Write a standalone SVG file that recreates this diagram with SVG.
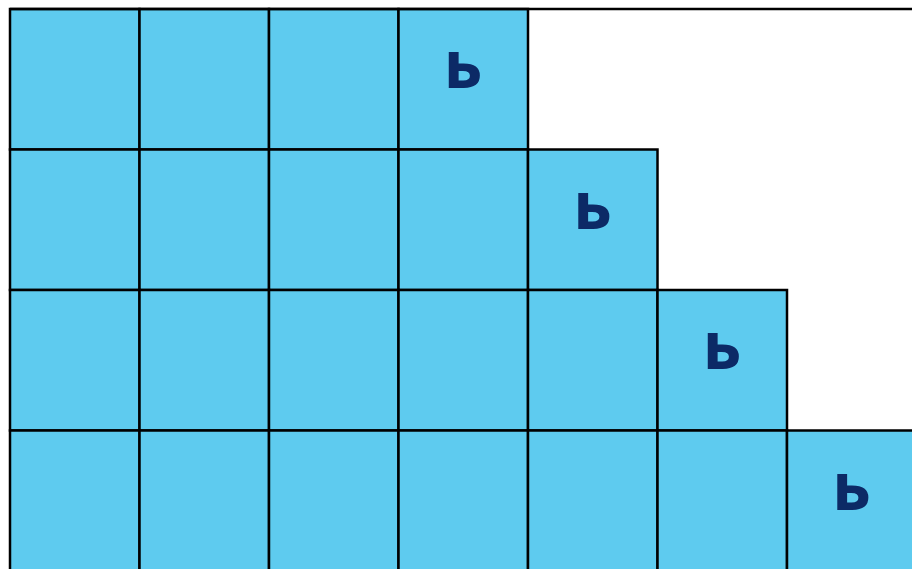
<svg xmlns="http://www.w3.org/2000/svg" width="912" height="569" viewBox="0 0 912 569">
<style>
.c{fill:#5ecbef;stroke:#000;stroke-width:2.5}
.l{font-family:"Noto Sans",sans-serif;font-weight:bold;font-size:66px;fill:#0c2a66;text-anchor:middle}
</style>
<rect width="912" height="569" fill="#fff"/>
<g id="row1">
<rect class="c" x="10" y="9" width="129.5" height="140.5"/>
<rect class="c" x="139.5" y="9" width="129.5" height="140.5"/>
<rect class="c" x="269" y="9" width="129.5" height="140.5"/>
<rect class="c" x="398.5" y="9" width="129.5" height="140.5"/>
</g>
<g id="row2">
<rect class="c" x="10" y="149.5" width="129.5" height="140.5"/>
<rect class="c" x="139.5" y="149.5" width="129.5" height="140.5"/>
<rect class="c" x="269" y="149.5" width="129.5" height="140.5"/>
<rect class="c" x="398.5" y="149.5" width="129.5" height="140.5"/>
<rect class="c" x="528" y="149.5" width="129.5" height="140.5"/>
</g>
<g id="row3">
<rect class="c" x="10" y="290" width="129.5" height="140.5"/>
<rect class="c" x="139.5" y="290" width="129.5" height="140.5"/>
<rect class="c" x="269" y="290" width="129.5" height="140.5"/>
<rect class="c" x="398.5" y="290" width="129.5" height="140.5"/>
<rect class="c" x="528" y="290" width="129.5" height="140.5"/>
<rect class="c" x="657.5" y="290" width="129.5" height="140.5"/>
</g>
<g id="row4">
<rect class="c" x="10" y="430.5" width="129.5" height="145"/>
<rect class="c" x="139.5" y="430.5" width="129.5" height="145"/>
<rect class="c" x="269" y="430.5" width="129.5" height="145"/>
<rect class="c" x="398.5" y="430.5" width="129.5" height="145"/>
<rect class="c" x="528" y="430.5" width="129.5" height="145"/>
<rect class="c" x="657.5" y="430.5" width="129.5" height="145"/>
<rect class="c" x="787" y="430.5" width="140" height="145"/>
</g>
<line x1="10" y1="9" x2="912" y2="9" stroke="#000" stroke-width="2.5"/>
<g id="letters">
<text class="l" x="463" y="88">ь</text>
<text class="l" x="592.5" y="228.5">ь</text>
<text class="l" x="722" y="369">ь</text>
<text class="l" x="851.5" y="509.5">ь</text>
</g>
</svg>
